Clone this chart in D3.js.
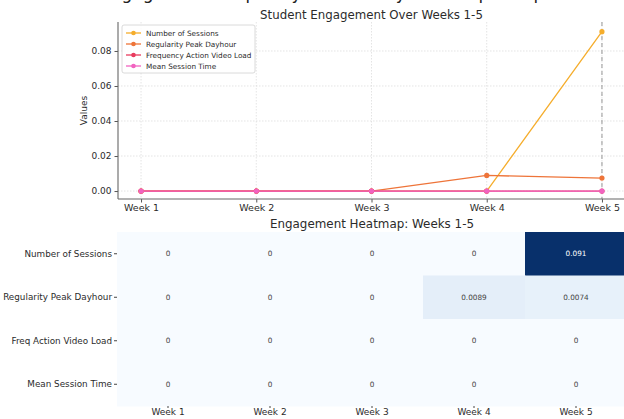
<!DOCTYPE html>
<html><head><meta charset="utf-8">
<script src="https://cdn.jsdelivr.net/npm/d3@7"></script>
<style>body{margin:0;background:#fff}svg{display:block;font-family:"DejaVu Sans",sans-serif}</style>
</head><body><svg id="c" width="624" height="419"></svg>
<script>
const weeks = ["Week 1","Week 2","Week 3","Week 4","Week 5"];
const seriesNames = ["Number of Sessions","Regularity Peak Dayhour","Frequency Action Video Load","Mean Session Time"];
const seriesColors = ["#f5ad2c","#ee7439","#e83b5e","#f163c0"];
const numberOfSessions = [0,0,0,0,0.091];
const regularityPeakDayhour = [0,0,0,0.0089,0.0074];
const frequencyActionVideoLoad = [0,0,0,0,0];
const meanSessionTime = [0,0,0,0,0];
const yTicks = [0,0.02,0.04,0.06,0.08];
const heatRows = ["Number of Sessions","Regularity Peak Dayhour","Freq Action Video Load","Mean Session Time"];

const series = [numberOfSessions, regularityPeakDayhour, frequencyActionVideoLoad, meanSessionTime];
const svg = d3.select("#c");
const txt = "#2b2b2b";

// cropped super title (only descenders visible in the reference)
svg.append("text").attr("x",312).attr("y",-1).attr("text-anchor","middle")
  .attr("font-size",17).attr("fill","#222").text("Student Engagement Frequency and Weekly Heatmap Comparison");

// ---------- line chart ----------
const L = {l:118, r:625, t:22, b:199};
const xl = d3.scaleLinear().domain([-0.2,4.2]).range([L.l,L.r]);
const y = d3.scaleLinear().domain([-0.00455,0.09655]).range([L.b,L.t]);

const g = svg.append("g");
g.selectAll(".gy").data(yTicks).join("line")
  .attr("x1",L.l).attr("x2",L.r).attr("y1",d=>y(d)).attr("y2",d=>y(d))
  .attr("stroke","#d9d9d9").attr("stroke-width",0.7).attr("stroke-dasharray","1.5,1.5");
g.selectAll(".gx").data(weeks).join("line")
  .attr("x1",(d,i)=>xl(i)).attr("x2",(d,i)=>xl(i)).attr("y1",L.t).attr("y2",L.b)
  .attr("stroke","#d9d9d9").attr("stroke-width",0.7).attr("stroke-dasharray","1.5,1.5");
g.append("line").attr("x1",xl(4)).attr("x2",xl(4)).attr("y1",L.t).attr("y2",L.b)
  .attr("stroke","#999").attr("stroke-width",1).attr("stroke-dasharray","4,3");

const yAxis = d3.axisLeft(y).tickValues(yTicks).tickFormat(d3.format(".2f")).tickSize(3.5).tickPadding(3);
const ga = g.append("g").attr("transform",`translate(${L.l},0)`).call(yAxis);
ga.select(".domain").remove();
ga.selectAll("line").attr("stroke","#555");
ga.selectAll("text").attr("font-size",9).attr("fill",txt).attr("font-family","DejaVu Sans");
const xAxis = d3.axisBottom(xl).tickValues([0,1,2,3,4]).tickFormat(i=>weeks[i]).tickSize(3.5).tickPadding(2);
const gx = g.append("g").attr("transform",`translate(0,${L.b})`).call(xAxis);
gx.select(".domain").remove();
gx.selectAll("line").attr("stroke","#555");
gx.selectAll("text").attr("font-size",9.5).attr("fill",txt).attr("font-family","DejaVu Sans");
g.append("line").attr("x1",L.l).attr("x2",L.l).attr("y1",L.t).attr("y2",L.b).attr("stroke","#666").attr("stroke-width",1.1);
g.append("line").attr("x1",L.l).attr("x2",L.r).attr("y1",L.b).attr("y2",L.b).attr("stroke","#666").attr("stroke-width",1.1);

const line = d3.line().x((d,i)=>xl(i)).y(d=>y(d));
series.forEach((s,k)=>{
  g.append("path").datum(s).attr("d",line).attr("fill","none")
    .attr("stroke",seriesColors[k]).attr("stroke-width",1.3);
  g.selectAll(null).data(s).join("circle").attr("cx",(d,i)=>xl(i)).attr("cy",d=>y(d))
    .attr("r",2.6).attr("fill",seriesColors[k]);
});

svg.append("text").attr("x",(L.l+L.r)/2).attr("y",19).attr("text-anchor","middle")
  .attr("font-size",11.8).attr("fill",txt).text("Student Engagement Over Weeks 1-5");
svg.append("text").attr("transform",`translate(87,${(L.t+L.b)/2}) rotate(-90)`).attr("text-anchor","middle")
  .attr("font-size",9).attr("fill",txt).text("Values");

const lg = svg.append("g").attr("transform","translate(122,25)");
lg.append("rect").attr("width",133).attr("height",48).attr("rx",2).attr("fill","#fff")
  .attr("fill-opacity",0.85).attr("stroke","#d0d0d0").attr("stroke-width",0.8);
seriesNames.forEach((n,k)=>{
  const yy = 8 + k*11;
  lg.append("line").attr("x1",4).attr("x2",19).attr("y1",yy).attr("y2",yy).attr("stroke",seriesColors[k]).attr("stroke-width",1.3);
  lg.append("circle").attr("cx",11.5).attr("cy",yy).attr("r",2.3).attr("fill",seriesColors[k]);
  lg.append("text").attr("x",24).attr("y",yy+2.6).attr("font-size",7.3).attr("fill",txt).text(n);
});

// ---------- heatmap ----------
const H = {l:117, r:627, t:232, b:406};
const hx = d3.scaleBand().domain(weeks).range([H.l,H.r]);
const hy = d3.scaleBand().domain(heatRows).range([H.t,H.b]);
const color = d3.scaleSequential(d3.interpolateBlues).domain([0,0.091]);
const cells = [];
heatRows.forEach((r,ri)=>weeks.forEach((w,wi)=>cells.push({r,w,v:series[ri][wi]})));
const hg = svg.append("g");
hg.selectAll("rect").data(cells).join("rect")
  .attr("x",d=>hx(d.w)).attr("y",d=>hy(d.r)).attr("width",hx.bandwidth()+0.5).attr("height",hy.bandwidth()+0.5)
  .attr("fill",d=>color(d.v));
const fmt = v => v===0 ? "0" : d3.format(".2g")(v);
hg.selectAll("text").data(cells).join("text")
  .attr("x",d=>hx(d.w)+hx.bandwidth()/2).attr("y",d=>hy(d.r)+hy.bandwidth()/2+2.6)
  .attr("text-anchor","middle").attr("font-size",7.3)
  .attr("fill",d=> d.v/0.091>0.6 ? "#fff" : "#444").text(d=>fmt(d.v));

const hyAxis = d3.axisLeft(hy).tickSize(3).tickPadding(2);
const hya = svg.append("g").attr("transform",`translate(${H.l},0)`).call(hyAxis);
hya.select(".domain").remove();
hya.selectAll("line").attr("stroke","#444");
hya.selectAll("text").attr("font-size",8.8).attr("fill",txt).attr("font-family","DejaVu Sans");
const hxAxis = d3.axisBottom(hx).tickSize(2).tickPadding(0.5);
const hxa = svg.append("g").attr("transform",`translate(0,${H.b})`).call(hxAxis);
hxa.select(".domain").remove();
hxa.selectAll("line").attr("stroke","#444");
hxa.selectAll("text").attr("font-size",9).attr("fill",txt).attr("font-family","DejaVu Sans");

svg.append("text").attr("x",372).attr("y",227.5).attr("text-anchor","middle")
  .attr("font-size",11.9).attr("fill",txt).text("Engagement Heatmap: Weeks 1-5");
</script></body></html>
